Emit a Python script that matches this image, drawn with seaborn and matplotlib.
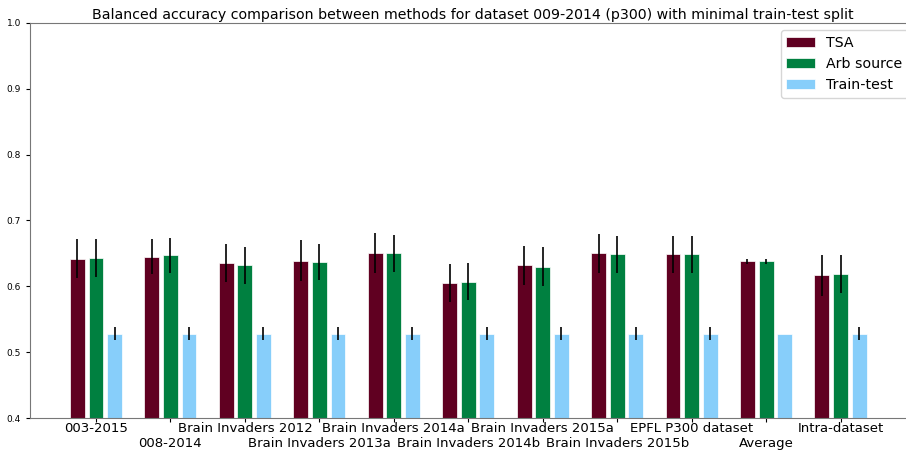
import numpy as np
import pandas as pd
import matplotlib
matplotlib.use("Agg")
import matplotlib.pyplot as plt
import seaborn as sns

datasets = ["003-2015", "008-2014", "Brain Invaders 2012", "Brain Invaders 2013a",
            "Brain Invaders 2014a", "Brain Invaders 2014b", "Brain Invaders 2015a",
            "Brain Invaders 2015b", "EPFL P300 dataset", "Average", "Intra-dataset"]
methods = ["TSA", "Arb source", "Train-test"]

tsa_mean = [0.642, 0.645, 0.635, 0.639, 0.651, 0.605, 0.632, 0.650, 0.649, 0.638, 0.617]
tsa_err = [0.030, 0.027, 0.029, 0.031, 0.030, 0.029, 0.030, 0.029, 0.028, 0.004, 0.031]
arb_mean = [0.643, 0.647, 0.632, 0.637, 0.650, 0.607, 0.630, 0.649, 0.649, 0.638, 0.619]
arb_err = [0.029, 0.027, 0.028, 0.028, 0.028, 0.028, 0.029, 0.028, 0.028, 0.004, 0.029]
tt_mean = [0.528, 0.528, 0.528, 0.528, 0.528, 0.528, 0.528, 0.528, 0.528, 0.528, 0.528]
tt_err = [0.010, 0.010, 0.010, 0.010, 0.010, 0.010, 0.010, 0.010, 0.010, np.nan, 0.010]

colors = ["#600021", "#008040", "#87cefa"]

df = pd.DataFrame({
    "dataset": datasets * 3,
    "method": np.repeat(methods, len(datasets)),
    "score": tsa_mean + arb_mean + tt_mean,
    "err": tsa_err + arb_err + tt_err,
})

fig = plt.figure(figsize=(9.06, 4.55), dpi=100)
ax = fig.add_axes([30 / 906, 1 - 418 / 455, 885 / 906, 395 / 455])

sns.barplot(data=df, x="dataset", y="score", hue="method", order=datasets,
            hue_order=methods, palette=colors, saturation=1, width=0.75, gap=0.2,
            edgecolor="white", linewidth=0.5, errorbar=None, ax=ax)

# add the error bars at the bar centres
for cont, m in zip(ax.containers, methods):
    sub = df[df["method"] == m].set_index("dataset").loc[datasets]
    xs = [p.get_x() + p.get_width() / 2 for p in cont.patches]
    ax.errorbar(xs, sub["score"], yerr=sub["err"], fmt="none", ecolor="black",
                elinewidth=1.2, capsize=0)

ax.set_ylim(0.4, 1.0)
ax.set_xlim(-0.886, 11.0)
ax.set_xlabel("")
ax.set_ylabel("")
labels = [d if i % 2 == 0 else "\n" + d for i, d in enumerate(datasets)]
ax.set_xticks(range(len(datasets)))
ax.set_xticklabels(labels, fontsize=9.5)
ax.tick_params(axis="y", labelsize=6.5, length=3)
ax.tick_params(axis="x", length=3, pad=0)
for s in ax.spines.values():
    s.set_color("#777777")

ax.set_title("Balanced accuracy comparison between methods for dataset 009-2014 (p300) with minimal train-test split",
             fontsize=10.2, pad=3)
ax.legend(loc="upper right", fontsize=10.2, title=None)

fig.savefig("out.png", dpi=100)
